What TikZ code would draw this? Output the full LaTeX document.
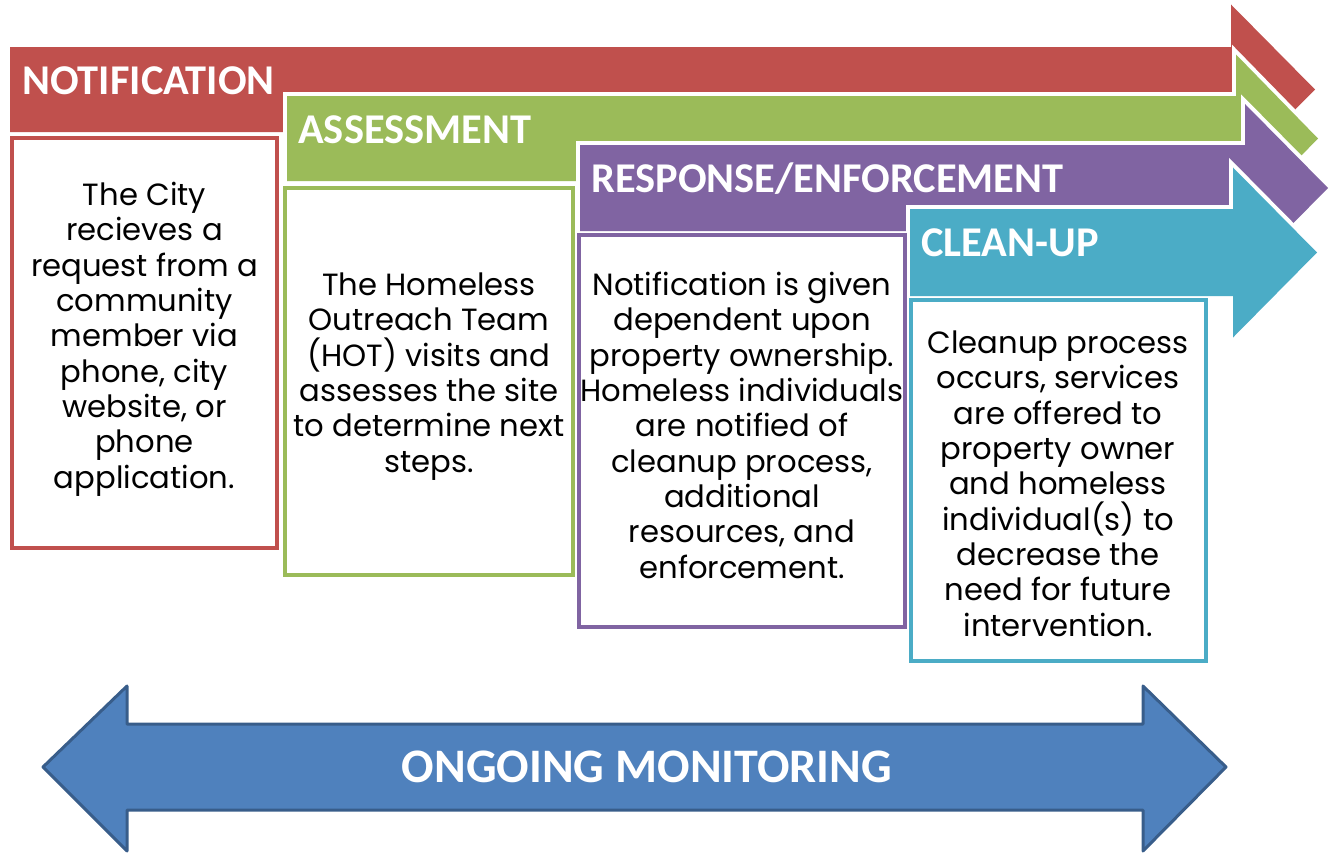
\documentclass[tikz,border=0pt]{standalone}
\usepackage{fontspec}
\setmainfont{Poppins}
\newfontfamily\headfont{Carlito}
\definecolor{cRed}{HTML}{C0504D}
\definecolor{cGreen}{HTML}{9BBB59}
\definecolor{cPurple}{HTML}{8064A2}
\definecolor{cCyan}{HTML}{4BACC6}
\definecolor{cBlue}{HTML}{4F81BD}
\definecolor{cBlueDark}{HTML}{385D8A}
\newcommand\bandarrow[7]{%
  \pgfmathsetmacro\yc{(#3+#4)/2}%
  \pgfmathsetmacro\yh{\yc-#7}%
  \pgfmathsetmacro\yl{\yc+#7}%
  \filldraw[draw=white, line width=6pt, fill=#1] (#2,#3) -- (#5,#3) -- (#5,\yh) -- (#6,\yc) -- (#5,\yl) -- (#5,#4) -- (#2,#4) -- cycle;
  \fill[#1] (#2,#3) -- (#5,#3) -- (#5,\yh) -- (#6,\yc) -- (#5,\yl) -- (#5,#4) -- (#2,#4) -- cycle;
}
\begin{document}
\begin{tikzpicture}[x=0.75pt,y=-0.75pt,
  headtext/.style={anchor=base west, inner sep=0pt, text=white, font=\headfont\bfseries\fontsize{31.8}{36}\selectfont},
  boxtext/.style={anchor=base, inner sep=0pt, align=center, text=black, font=\fontsize{23}{26.5}\selectfont},
  stepbox/.style={line width=3pt, fill=white}]
\useasboundingbox (0,0) rectangle (1339,854);
% band arrows
\bandarrow{cRed}{10}{47}{132}{1231}{1315}{85}
\bandarrow{cGreen}{287}{96}{181}{1236}{1318}{84}
\bandarrow{cPurple}{580}{145}{231}{1245}{1328}{84}
\bandarrow{cCyan}{910}{209}{296}{1233}{1317}{85}
% headers
\node[headtext] (hNot) at (22,94) {NOTIFICATION};
\node[headtext] (hAss) at (298,143) {ASSESSMENT};
\node[headtext] (hRes) at (591,192) {RESPONSE/ENFORCEMENT};
\node[headtext] (hCle) at (921,256) {CLEAN-UP};
% boxes
\draw[stepbox, draw=cRed] (12,138) rectangle (277,548);
\draw[stepbox, draw=cGreen] (284.5,187.5) rectangle (573,575);
\draw[stepbox, draw=cPurple] (579,235) rectangle (905,627);
\draw[stepbox, draw=cCyan] (911,300) rectangle (1206,661);
% box texts (anchor = baseline of last line)
\node[boxtext] (tNot) at (144.5,488) {The City\\recieves a\\request from a\\community\\member via\\phone, city\\website, or\\phone\\application.};
\node[boxtext] (tAss) at (429,472) {The Homeless\\Outreach Team\\(HOT) visits and\\assesses the site\\to determine next\\steps.};
\node[boxtext] (tRes) at (742,578) {Notification is given\\dependent upon\\property ownership.\\Homeless individuals\\are notified of\\cleanup process,\\additional\\resources, and\\enforcement.};
\node[boxtext] (tCle) at (1058,636) {Cleanup process\\occurs, services\\are offered to\\property owner\\and homeless\\individual(s) to\\decrease the\\need for future\\intervention.};
% ongoing monitoring double arrow
\filldraw[fill=cBlue, draw=cBlueDark, line width=2.25pt, line join=round]
  (43,767) -- (127,686) -- (127,724) -- (1143,724) -- (1143,686) -- (1226,767)
  -- (1143,851) -- (1143,810) -- (127,810) -- (127,851) -- cycle;
\node[text=white, font=\headfont\bfseries\fontsize{36.1}{40}\selectfont, inner sep=0pt] (mon) at (647,767) {ONGOING MONITORING};
\end{tikzpicture}
\end{document}
